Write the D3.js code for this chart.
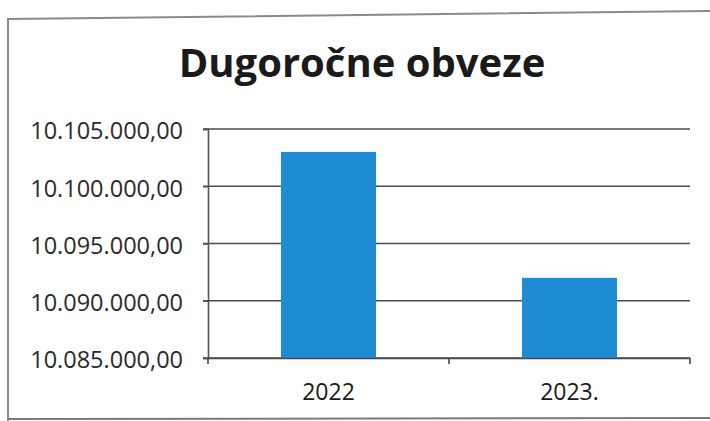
<!DOCTYPE html>
<html>
<head>
<meta charset="utf-8">
<script src="https://cdn.jsdelivr.net/npm/d3@7"></script>
<style>
    body { margin: 0; background: #ffffff; }
    svg { display: block; }
</style>
</head>
<body>
<svg></svg>
<script>
const title = 'Dugoročne obveze'
const categories = ['2022', '2023.']
const values = [10103000, 10092000]
const yTicks = [10085000, 10090000, 10095000, 10100000, 10105000]

let width = 710
let height = 421

let plot = { left: 208, right: 690, top: 129, bottom: 358 } //plot area

let xScale
let yScale

let svg = d3.select('svg')

// croatian number format: 10.105.000,00
const hr = d3.formatLocale({ decimal: ',', thousands: '.', grouping: [3], currency: ['', ''] })
const fmt = hr.format(',.2f')

const drawCanvas = () => {
    svg.attr('width', width)
       .attr('height', height)

    // frame of the scanned chart box
    svg.append('path')
       .attr('d', 'M8,' + height + ' L8,19 L' + width + ',11')
       .attr('fill', 'none')
       .attr('stroke', '#8a8a8a')
       .attr('stroke-width', 2)
    svg.append('line')
       .attr('x1', 8).attr('x2', width)
       .attr('y1', 419).attr('y2', 418)
       .attr('stroke', '#7a7a7a')
       .attr('stroke-width', 2)

    svg.append('text')
       .attr('x', 362)
       .attr('y', 77)
       .attr('text-anchor', 'middle')
       .attr('font-family', '"Open Sans", sans-serif')
       .attr('font-weight', 'bold')
       .attr('font-size', 40)
       .attr('fill', '#1a1a1a')
       .text(title)
}

const generateScales = () => {
    xScale = d3.scaleBand()
               .domain(categories)
               .range([plot.left, plot.right])
               .paddingInner(0.606)
               .paddingOuter(0.303)

    yScale = d3.scaleLinear()
               .domain([d3.min(yTicks), d3.max(yTicks)])
               .range([plot.bottom, plot.top])
}

const drawGrid = () => {
    svg.append('g')
       .selectAll('line')
       .data(yTicks)
       .enter()
       .append('line')
       .attr('x1', plot.left - 5)
       .attr('x2', plot.right)
       .attr('y1', d => yScale(d))
       .attr('y2', d => yScale(d))
       .attr('stroke', '#4a4a4a')
       .attr('stroke-width', 1.6)
}

const drawBars = () => {
    svg.selectAll('rect.bar')
       .data(values)
       .enter()
       .append('rect')
       .attr('class', 'bar')
       .attr('x', (d, i) => xScale(categories[i]))
       .attr('width', xScale.bandwidth())
       .attr('y', d => yScale(d))
       .attr('height', d => plot.bottom - yScale(d))
       .attr('fill', '#1f8bd3')
}

const generateAxes = () => {
    let yAxis = d3.axisLeft(yScale)
                  .tickValues(yTicks)
                  .tickFormat(fmt)
                  .tickSize(5)
                  .tickPadding(20)

    let gy = svg.append('g')
                .attr('transform', 'translate(' + plot.left + ', 0)')
                .call(yAxis)
    gy.select('.domain').attr('stroke', '#555').attr('stroke-width', 1.6)
    gy.selectAll('.tick line').attr('stroke', '#555').attr('stroke-width', 1.6)
    gy.selectAll('.tick text')
      .attr('font-family', '"Open Sans", sans-serif')
      .attr('font-size', 23.5)
      .attr('fill', '#2a2a2a')
      .attr('dy', '0.42em')

    // category axis with ticks between the categories
    let xAxis = d3.axisBottom(xScale)
                  .tickSize(0)
                  .tickPadding(26)

    let gx = svg.append('g')
                .attr('transform', 'translate(0, ' + plot.bottom + ')')
                .call(xAxis)
    gx.select('.domain').attr('stroke', '#4a4a4a').attr('stroke-width', 1.6)
    gx.selectAll('.tick text')
      .attr('font-family', '"Open Sans", sans-serif')
      .attr('font-size', 23)
      .attr('fill', '#1a1a1a')

    let bounds = [plot.left, ...categories.slice(1).map(c => xScale(c) - xScale.step() * xScale.paddingInner() / 2), plot.right]
    gx.selectAll('line.sep')
      .data(bounds)
      .enter()
      .append('line')
      .attr('class', 'sep')
      .attr('x1', d => d).attr('x2', d => d)
      .attr('y1', 0).attr('y2', 6)
      .attr('stroke', '#4a4a4a')
      .attr('stroke-width', 1.6)
}

drawCanvas()
generateScales()
drawGrid()
drawBars()
generateAxes()
</script>
</body>
</html>
